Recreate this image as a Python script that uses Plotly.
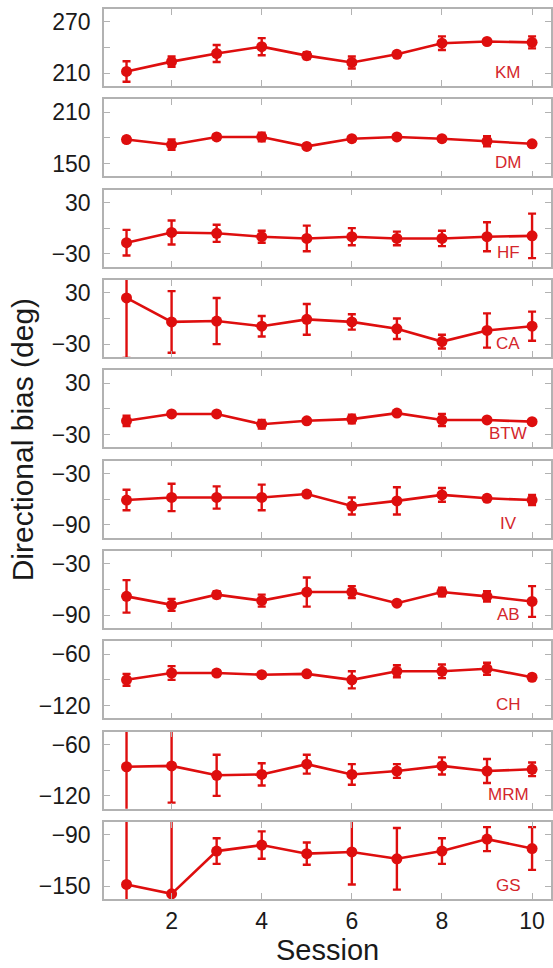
import plotly.graph_objects as go
from plotly.subplots import make_subplots

sessions = [1, 2, 3, 4, 5, 6, 7, 8, 9, 10]
subjects = ["KM", "DM", "HF", "CA", "BTW", "IV", "AB", "CH", "MRM", "GS"]

km = [212, 223.5, 233, 241, 230.5, 222.5, 232, 245, 247, 246]
km_err = [12, 6, 10, 10, 4, 7, 3, 8, 2, 7]
dm = [178, 172, 181, 181, 170, 179, 181, 179, 176, 173]
dm_err = [3, 6, 3, 5, 2, 3, 3, 3, 6, 2]
hf = [-17, -5, -6, -10, -12, -10, -12, -12, -10, -9]
hf_err = [15, 14, 10, 7, 15, 10, 8, 9, 17, 26]
ca = [24, -4, -3, -9, -1, -4, -12, -27, -14, -9]
ca_err = [70, 36, 27, 12, 18, 9, 12, 8, 20, 17]
btw = [-14, -6, -6, -18, -14, -12, -5, -13, -13, -15]
btw_err = [6, 2, 2, 5, 2, 5, 2, 7, 2, 2]
iv = [-61, -58, -58, -58, -54, -68, -62, -55, -59, -61]
iv_err = [12, 16, 13, 15, 3, 10, 16, 8, 3, 6]
ab = [-68, -78, -66, -73, -63, -63, -76, -63, -68, -74]
ab_err = [19, 7, 4, 7, 17, 7, 2, 5, 6, 18]
ch = [-90, -82, -82, -84, -83, -90, -80, -80, -77, -87]
ch_err = [7, 8, 3, 2, 2, 10, 7, 8, 7, 3]
mrm = [-86, -85, -96, -95, -83, -95, -91, -85, -91, -89]
mrm_err = [60, 43, 24, 13, 11, 12, 8, 10, 14, 8]
gs = [-148, -159, -109, -102, -112, -110, -118, -109, -95, -106]
gs_err = [80, 90, 15, 16, 13, 38, 36, 15, 14, 25]

means = [km, dm, hf, ca, btw, iv, ab, ch, mrm, gs]
errors = [km_err, dm_err, hf_err, ca_err, btw_err, iv_err, ab_err, ch_err, mrm_err, gs_err]
y_ticks = [[210, 240, 270], [150, 180, 210], [-30, 0, 30], [-30, 0, 30], [-30, 0, 30],
           [-90, -60, -30], [-90, -60, -30], [-120, -90, -60], [-120, -90, -60], [-150, -120, -90]]
x_ticks = [2, 4, 6, 8, 10]

RED = "rgb(222,14,14)"
LABEL_RED = "rgb(212,38,44)"
GRAY = "rgb(178,178,178)"
FONT = "Liberation Sans, Arial, Helvetica, sans-serif"

W, H = 553, 968
ML, MR, MT, MB = 104, 0, 9, 69
plot_h = H - MT - MB
gap = 13.33


def fmt(v):
    return str(v).replace("-", "\u2212")


fig = make_subplots(rows=10, cols=1, shared_xaxes=False, vertical_spacing=gap / plot_h)

for i, (m, e) in enumerate(zip(means, errors)):
    r = i + 1
    fig.add_trace(go.Scatter(
        x=sessions, y=m, mode="lines+markers",
        line=dict(color=RED, width=2.6),
        marker=dict(color=RED, size=11),
        error_y=dict(type="data", array=e, visible=True, color=RED, thickness=2.4, width=4),
        showlegend=False,
    ), row=r, col=1)
    t = y_ticks[i]
    fig.update_yaxes(
        range=[t[0] - 15, t[2] + 15], tickvals=t, ticktext=[fmt(t[0]), "", fmt(t[2])],
        ticks="inside", ticklen=6, tickwidth=1.2, tickcolor=GRAY,
        showline=True, linecolor=GRAY, linewidth=1.5, mirror="ticks",
        showgrid=False, zeroline=False,
        tickfont=dict(family=FONT, size=23, color="#1a1a1a"),
        ticklabelstandoff=7,
        row=r, col=1)
    fig.update_xaxes(
        range=[0.5, 10.42], tickvals=x_ticks,
        showticklabels=(r == 10),
        ticks="inside", ticklen=6, tickwidth=1.2, tickcolor=GRAY,
        showline=True, linecolor=GRAY, linewidth=1.5, mirror="ticks",
        showgrid=False, zeroline=False,
        tickfont=dict(family=FONT, size=23, color="#1a1a1a"),
        ticklabelstandoff=1,
        row=r, col=1)
    xref = "x" if r == 1 else f"x{r}"
    yref = "y domain" if r == 1 else f"y{r} domain"
    fig.add_annotation(x=9.47, xref=xref, y=0.18, yref=yref, text=subjects[i],
                       showarrow=False, xanchor="center", yanchor="middle",
                       font=dict(family=FONT, size=17, color=LABEL_RED))

fig.add_annotation(x=0.5, xref="paper", y=(899 - 950) / plot_h, yref="paper", text="Session",
                   showarrow=False, xanchor="center", yanchor="middle",
                   font=dict(family=FONT, size=29, color="#1a1a1a"))
fig.add_annotation(x=(22 - ML) / (W - ML - MR), xref="paper", y=(899 - 440) / plot_h, yref="paper",
                   text="Directional bias (deg)", textangle=-90,
                   showarrow=False, xanchor="center", yanchor="middle",
                   font=dict(family=FONT, size=30, color="#1a1a1a"))

fig.update_layout(
    width=W, height=H,
    margin=dict(l=ML, r=MR, t=MT, b=MB),
    plot_bgcolor="white", paper_bgcolor="white",
    font=dict(family=FONT),
)

fig.write_html("out.html", config={"displayModeBar": False},
               post_script="document.body.style.margin='0px';document.body.style.overflow='hidden';")
